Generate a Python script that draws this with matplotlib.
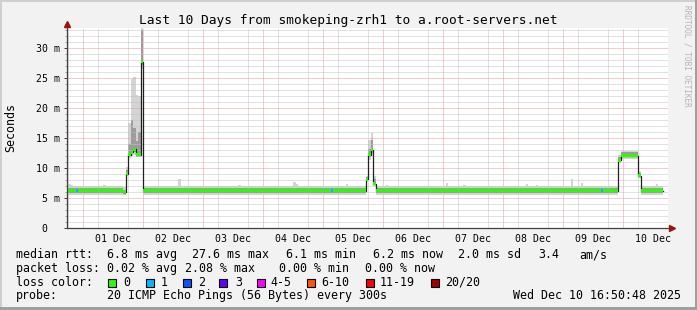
import numpy as np
import matplotlib
matplotlib.use("Agg")
import matplotlib.pyplot as plt
from matplotlib.patches import Rectangle
from matplotlib.ticker import FixedLocator

# hours are counted from 01 Dec 00:00, one rrd bin per hour
seg_start=[-7,16,17,18,19,20,21,22,23,24,113,114,115,116,117,214,215,222,223]
seg_median=[6.2,6.0,9.0,12.2,12.6,13.1,12.2,12.2,27.7,6.2,8.1,12.2,13.0,7.4,6.2,11.3,12.05,8.7,6.2]
seg_min=[5.5,5.5,8.6,11.7,12.0,12.2,11.8,11.8,26.5,5.5,7.7,11.4,12.4,7.0,5.5,10.9,11.5,8.3,5.5]
seg_max=[7.0,6.8,10.2,17.5,24.9,25.1,22.2,22.0,34.0,7.0,8.7,14.7,15.9,8.6,7.0,12.1,12.9,9.5,7.0]
seg_q_lo=[5.8,5.7,8.8,12.0,12.3,12.6,12.0,12.0,27.2,5.8,7.9,11.8,12.8,7.2,5.8,11.1,11.8,8.5,5.8]
seg_q_hi=[6.6,6.4,9.6,14.0,18.0,16.7,14.5,16.0,33.0,6.6,8.5,13.2,14.7,8.2,6.6,11.9,12.6,9.2,6.6]
data_end=232
spike_hours=[-6,-5,8,38,62,84,85,105,121,145,152,177,181,195,199,229]
spike_tops=[7.3,7.2,7.2,8.1,7.1,7.7,7.4,7.3,7.2,7.5,7.2,7.3,7.2,8.2,7.5,7.3]
loss1_hours=[-3,99,207]

day_labels=["01 Dec","02 Dec","03 Dec","04 Dec","05 Dec","06 Dec","07 Dec","08 Dec","09 Dec","10 Dec"]
y_ticks=[0,5,10,15,20,25,30]
y_labels=[" 0"," 5 m","10 m","15 m","20 m","25 m","30 m"]

title="Last 10 Days from smokeping-zrh1 to a.root-servers.net"
rtt_items=["median rtt:","6.8 ms avg","27.6 ms max","6.1 ms min","6.2 ms now","2.0 ms sd","3.4","am/s"]
loss_items=["packet loss:","0.02 % avg","2.08 % max","0.00 % min","0.00 % now"]
loss_names=["0","1","2","3","4-5","6-10","11-19","20/20"]
loss_colors=["#26ff00","#00b8ff","#0059ff","#5e00ff","#ff00ff","#ff5500","#ff0000","#a10000"]
probe_items=["probe:","20 ICMP Echo Pings (56 Bytes) every 300s","Wed Dec 10 16:50:48 2025"]

W,H=697,310
MONO="DejaVu Sans Mono"
fx=lambda px:px/W
fy=lambda py:1-py/H

hours=np.arange(-7,data_end)
idx=np.searchsorted(seg_start,hours,side="right")-1
median=np.array(seg_median)[idx];lo=np.array(seg_min)[idx];hi=np.array(seg_max)[idx]
qlo=np.array(seg_q_lo)[idx];qhi=np.array(seg_q_hi)[idx]
for h,t in zip(spike_hours,spike_tops):hi[hours==h]=t
colors=[loss_colors[1] if h in loss1_hours else loss_colors[0] for h in hours]
xs=np.append(hours,data_end);ext=lambda a:np.append(a,a[-1])

fig=plt.figure(figsize=(W/100,H/100),dpi=100,facecolor="#f2f2f2")
ax=fig.add_axes([fx(67),fy(228),fx(668)-fx(67),fy(28)-fy(228)],facecolor="white")
ax.set_xlim(-6.52,233.9);ax.set_ylim(0,33.33)

# grid
dotted=(0,(1,1))
ax.set_yticks(y_ticks,y_labels,family=MONO,fontsize=7.1,ha="left")
ax.yaxis.set_minor_locator(FixedLocator([v for v in range(1,34) if v%5]))
ax.set_xticks([12+24*d for d in range(len(day_labels))],day_labels,family=MONO,fontsize=7.1)
ax.xaxis.set_minor_locator(FixedLocator([6*k for k in range(-1,40) if k%4]))
ax.grid(which="major",axis="y",color="#eb9a9a",ls=dotted,lw=0.72)
ax.grid(which="minor",axis="both",color="#c4c4c4",ls=dotted,lw=0.72)
ax.vlines([24*d for d in range(len(day_labels))],0,1,transform=ax.get_xaxis_transform(),colors="#eb9a9a",linestyles=dotted,lw=0.72,zorder=0.6)
ax.tick_params(axis="y",which="major",length=2.2,width=0.72,color="#404040",pad=20.2)
ax.tick_params(axis="y",which="minor",length=1.2,width=0.72,color="#a0a0a0")
ax.tick_params(axis="x",which="both",length=0,pad=4.5)
for s in ax.spines.values():s.set_visible(False)

# smoke, median line, loss colored band
ax.fill_between(xs,ext(lo),ext(hi),step="post",color="#d4d4d4",lw=0,zorder=1)
ax.fill_between(xs,ext(qlo),ext(qhi),step="post",color="#9c9c9c",lw=0,zorder=1.1)
ax.step(xs,ext(median),where="post",color="#202020",lw=0.9,zorder=2)
ax.bar(hours,0.5,bottom=median-0.25,width=1,align="edge",color=colors,lw=0,zorder=3)

# axes with arrows
ax.plot([0,0],[0,1.02],transform=ax.transAxes,clip_on=False,color="#404040",lw=0.9,zorder=4)
ax.plot([0,1.004],[0,0],transform=ax.transAxes,clip_on=False,color="#404040",lw=0.9,zorder=4)
ax.plot([0],[1.0225],transform=ax.transAxes,clip_on=False,marker="^",ms=4.6,color="#a01010",zorder=5)
ax.plot([1.006],[0],transform=ax.transAxes,clip_on=False,marker=">",ms=4.6,color="#a01010",zorder=5)

# texts
fig.text(fx(348),fy(24),title,ha="center",va="baseline",family=MONO,fontsize=9.3)
fig.text(fx(11),fy(128),"Seconds",rotation=90,ha="center",va="center",family=MONO,fontsize=8.4)
fig.text(fx(687),fy(5),"RRDTOOL / TOBI OETIKER",rotation=270,ha="center",va="top",family=MONO,fontsize=5.6,color="#b4b4b4")
rtt_x=[16,107.3,191.7,286,372.7,458.3,538.3,579.3]
loss_x=[16,107.3,185,279.3,365]
probe_x=[16,107.3,513.3]
for items,xpos,base in [(rtt_items,rtt_x,258),(loss_items,loss_x,272),(probe_items,probe_x,299)]:
    for t,x in zip(items,xpos):fig.text(fx(x),fy(base),t,ha="left",va="baseline",family=MONO,fontsize=8.4)
fig.text(fx(16),fy(285.5),"loss color:",ha="left",va="baseline",family=MONO,fontsize=8.4)
box_x=[108.3,145.7,182.7,219.3,256.7,307.3,365.7,430.7]
name_x=[123.3,161,197.7,235,270.7,321.7,380,445]
for name,c,bx,nx in zip(loss_names,loss_colors,box_x,name_x):
    fig.add_artist(Rectangle((fx(bx),fy(286.5)),8/W,8/H,transform=fig.transFigure,facecolor=c,edgecolor="black",lw=0.8))
    fig.text(fx(nx),fy(285.5),name,ha="left",va="baseline",family=MONO,fontsize=8.4)

# shaded frame: light top/left, dark bottom/right
frame=[(0,fy(2),1,2/H,"#cfcfcf"),(0,0,fx(2),1,"#cfcfcf"),(fx(W-2),0,fx(2),1,"#9f9f9f"),(0,0,1,3/H,"#9f9f9f")]
for x0,y0,w,h,c in frame:fig.add_artist(Rectangle((x0,y0),w,h,transform=fig.transFigure,color=c,lw=0))
fig.savefig("out.png",dpi=100,facecolor=fig.get_facecolor())
